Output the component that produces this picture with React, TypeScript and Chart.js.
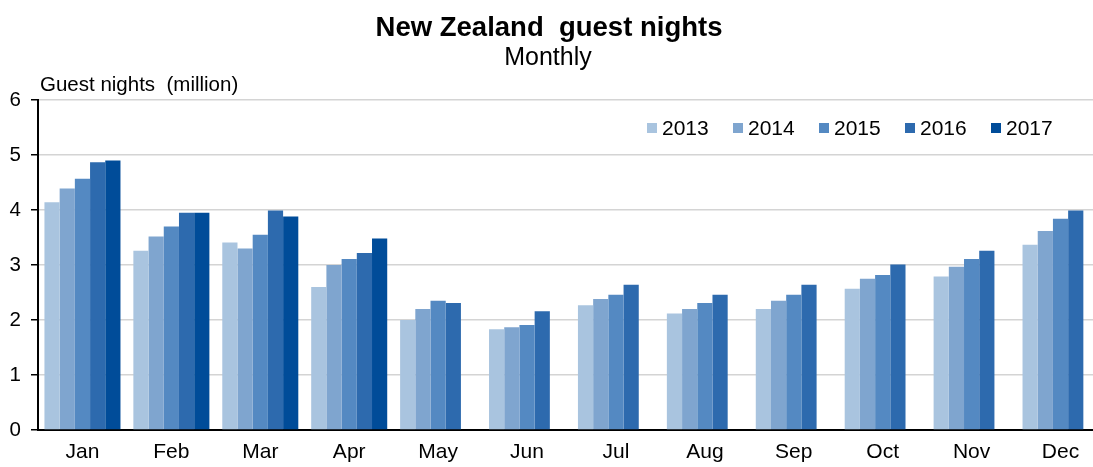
import React, { useEffect, useRef } from "react";
import { Chart, registerables } from "chart.js";

Chart.register(...registerables);

const categories = ["Jan", "Feb", "Mar", "Apr", "May", "Jun", "Jul", "Aug", "Sep", "Oct", "Nov", "Dec"];
const seriesNames = ["2013", "2014", "2015", "2016", "2017"];
const v2013 = [4.14, 3.26, 3.41, 2.6, 2.0, 1.83, 2.27, 2.12, 2.2, 2.57, 2.79, 3.37];
const v2014 = [4.39, 3.52, 3.3, 3.0, 2.2, 1.87, 2.38, 2.2, 2.35, 2.75, 2.97, 3.62];
const v2015 = [4.57, 3.7, 3.55, 3.11, 2.35, 1.91, 2.46, 2.31, 2.46, 2.82, 3.11, 3.84];
const v2016 = [4.87, 3.95, 3.99, 3.22, 2.31, 2.16, 2.64, 2.46, 2.64, 3.01, 3.26, 3.99];
const v2017 = [4.9, 3.95, 3.88, 3.48, null, null, null, null, null, null, null, null];
const seriesColors = ["#a9c4df", "#7fa5cf", "#5489c2", "#2d6aae", "#004c99"];
const yTicks = [0, 1, 2, 3, 4, 5, 6];

const titleText = "New Zealand  guest nights";
const subtitleText = "Monthly";
const yAxisTitle = "Guest nights  (million)";

const FONT = "'Liberation Sans', Arial, sans-serif";

const textPlugin = {
  id: "textPlugin",
  afterDraw(chart: any) {
    const ctx = chart.ctx;
    ctx.save();
    ctx.fillStyle = "#000";
    ctx.textBaseline = "alphabetic";
    ctx.textAlign = "center";
    ctx.font = `bold 27.5px ${FONT}`;
    ctx.fillText(titleText, 549, 36);
    ctx.font = `25px ${FONT}`;
    ctx.fillText(subtitleText, 548, 65);
    ctx.textAlign = "left";
    ctx.font = `20.5px ${FONT}`;
    ctx.fillText(yAxisTitle, 40, 91);

    // legend inside plot area
    ctx.font = `21px ${FONT}`;
    ctx.textBaseline = "middle";
    const datasets = chart.data.datasets;
    const startX = 647;
    const step = 86;
    const cy = 128;
    datasets.forEach((ds: any, i: number) => {
      const x = startX + i * step;
      ctx.fillStyle = ds.backgroundColor;
      ctx.fillRect(x, cy - 5, 10, 10);
      ctx.fillStyle = "#000";
      ctx.fillText(ds.label, x + 15, cy + 1);
    });
    ctx.restore();
  },
};

export default function App() {
  const ref = useRef<HTMLCanvasElement | null>(null);
  useEffect(() => {
    if (!ref.current) return;
    const values = [v2013, v2014, v2015, v2016, v2017];
    const chart = new Chart(ref.current, {
      type: "bar",
      data: {
        labels: categories,
        datasets: seriesNames.map((name, i) => ({
          label: name,
          data: values[i],
          backgroundColor: seriesColors[i],
          borderWidth: 0,
          categoryPercentage: 0.855,
          barPercentage: 1.0,
        })),
      },
      options: {
        responsive: false,
        animation: false,
        layout: { padding: { top: 100, left: 0, right: 0, bottom: 0 } },
        plugins: {
          legend: { display: false },
          title: { display: false },
          tooltip: { enabled: false },
        },
        scales: {
          x: {
            offset: true,
            grid: { display: true, drawOnChartArea: false, drawTicks: false },
            border: { display: true, color: "#000", width: 2 },
            ticks: {
              color: "#000",
              font: { family: FONT, size: 21 },
              padding: 10,
              maxRotation: 0,
              autoSkip: false,
            },
            afterFit(scale: any) {
              scale.height = 37;
            },
          },
          y: {
            min: 0,
            max: 6,
            afterBuildTicks(scale: any) {
              scale.ticks = yTicks.map((v) => ({ value: v }));
            },
            grid: {
              color: "#d4d4d4",
              lineWidth: 1.5,
              drawTicks: true,
              tickLength: 7,
              tickColor: "#000",
              tickWidth: 1.5,
            },
            border: { display: true, color: "#000", width: 2 },
            ticks: {
              color: "#000",
              font: { family: FONT, size: 20.5 },
              padding: 10,
            },
            afterFit(scale: any) {
              scale.width = 38;
            },
          },
        },
      },
      plugins: [textPlugin],
    });
    return () => chart.destroy();
  }, []);

  return (
    <div
      style={{
        position: "fixed",
        left: 0,
        top: 0,
        width: 1093,
        height: 467,
        overflow: "hidden",
        background: "#fff",
      }}
    >
      <canvas ref={ref} width={1105} height={467} style={{ display: "block" }} />
    </div>
  );
}
